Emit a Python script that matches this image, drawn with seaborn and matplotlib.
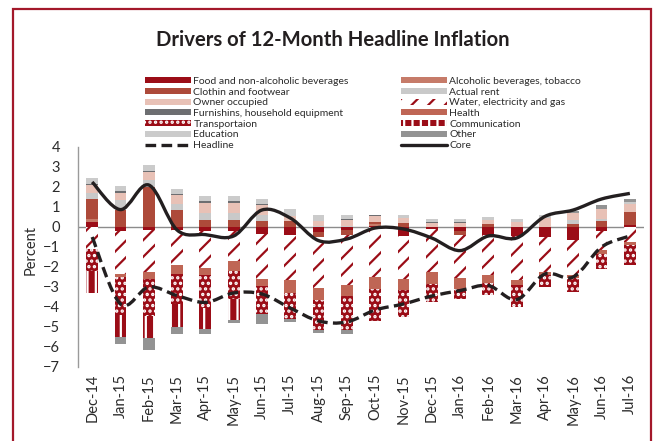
import numpy as np
import matplotlib.pyplot as plt
import seaborn as sns
from matplotlib.path import Path
from matplotlib.patches import PathPatch, Rectangle
from matplotlib.lines import Line2D

# ── Data (percentage-point contributions) ─────────────────────────────────────
months = ["Dec-14", "Jan-15", "Feb-15", "Mar-15", "Apr-15", "May-15", "Jun-15",
          "Jul-15", "Aug-15", "Sep-15", "Oct-15", "Nov-15", "Dec-15", "Jan-16",
          "Feb-16", "Mar-16", "Apr-16", "May-16", "Jun-16", "Jul-16"]

food          = [0.25, -0.22, -0.17, -0.17, -0.20, -0.20, -0.33, -0.38, -0.25, -0.17,
                 0.05, -0.45, -0.12, -0.22, -0.42, -0.45, -0.50, -0.67, -0.20, 0.12]
alcohol       = [0.15, 0, 0, 0, 0, 0, 0, 0, 0, 0, 0.10, 0, 0, 0, 0, 0, 0, 0, 0, 0]
clothing      = [0.98, 0.83, 2.00, 0.83, 0.37, 0.33, 0.28, 0.28, -0.25, -0.21,
                 0.10, 0.20, 0, -0.20, 0.17, 0, 0, 0.17, 0.30, 0.63]
rent          = [0.33, 0.50, 0.35, 0.30, 0.35, 0.39, 0.34, 0, 0.05, 0.07,
                 0, 0, 0, 0, 0, 0, 0, 0.17, 0.08, 0]
owner         = [0.38, 0.39, 0.40, 0.45, 0.50, 0.50, 0.46, 0.27, 0.25, 0.30,
                 0.30, 0.25, 0.22, 0.20, 0.20, 0.25, 0.45, 0.38, 0.50, 0.42]
water         = [-1.10, -2.11, -2.10, -1.75, -1.85, -1.52, -2.25, -2.29, -2.57, -2.54,
                 -2.50, -2.13, -2.13, -2.13, -2.00, -2.22, -1.75, -1.75, -0.97, -0.75]
furnishing    = [0.08, 0.06, 0.03, 0.07, 0.06, 0.06, 0.09, 0, 0.02, 0.02,
                 0.07, 0, 0.03, 0.03, 0, 0, 0, 0, 0, 0]
health        = [0, -0.17, -0.33, -0.41, -0.33, -0.50, -0.39, -0.61, -0.60, -0.53,
                 -0.58, -0.59, -0.58, -0.53, -0.36, -0.25, -0.17, -0.13, -0.16, -0.17]
transport     = [-1.08, -1.88, -1.83, -1.54, -1.67, -1.36, -1.36, -1.30, -1.50, -1.72,
                 -1.64, -1.35, -0.92, -0.50, -0.64, -1.08, -0.58, -0.70, -0.75, -0.96]
communication = [-1.12, -1.12, -1.12, -1.13, -1.03, -1.09, 0, 0, 0, 0,
                 0, 0, 0, 0, 0, 0, 0, 0, 0, 0]
education     = [0.30, 0.27, 0.32, 0.23, 0.27, 0.27, 0.25, 0.33, 0.30, 0.23,
                 0, 0.15, 0.15, 0.15, 0.12, 0.15, 0.15, 0, 0, 0.08]
other         = [0, -0.33, -0.62, -0.33, -0.25, -0.13, -0.50, -0.17, -0.11, -0.16,
                 0, 0, 0, 0, 0, 0, 0, 0.10, 0.20, 0.17]

headline = [-0.50, -3.85, -3.00, -3.43, -3.77, -3.30, -3.35, -4.05, -4.70, -4.75,
            -4.15, -3.85, -3.45, -3.18, -2.93, -3.63, -2.35, -2.50, -1.00, -0.45]
core     = [2.25, 0.87, 2.10, -0.15, -0.38, -0.45, 0.85, 0.45, -0.68, -0.60,
            -0.05, -0.10, -0.55, -1.18, -0.45, -0.55, 0.53, 0.85, 1.40, 1.68]

# ── Style ─────────────────────────────────────────────────────────────────────
sns.set_theme(style="white")
plt.rcParams["font.family"] = ["Lato", "DejaVu Sans"]
plt.rcParams["hatch.linewidth"] = 1.6

DARK = "#9b0d17"
TEXT = "#2b2b2b"
series = [
    ("Food and non-alcoholic beverages", food, dict(color=DARK)),
    ("Alcoholic beverages, tobacco", alcohol, dict(color="#c67b69")),
    ("Clothin and footwear", clothing, dict(color="#ad4a3a")),
    ("Actual rent", rent, dict(color="#c9c9c9")),
    ("Owner occupied", owner, dict(color="#e8c1b6")),
    ("Water, electricity and gas", water, dict(facecolor="white", edgecolor=DARK, hatch="//")),
    ("Furnishins, household equipment", furnishing, dict(color="#6d6e71")),
    ("Health", health, dict(color="#bf6655")),
    ("Transportaion", transport, dict(facecolor=DARK, edgecolor="white", hatch="...")),
    ("Communication", communication, dict(facecolor=DARK, edgecolor="white", hatch="||")),
    ("Education", education, dict(color="#cbcbcb")),
    ("Other", other, dict(color="#939393")),
]


def smooth_path(xs, ys):
    # Excel-style smoothed line: cubic Bezier through the data points
    pts = np.column_stack([xs, ys]).astype(float)
    verts, codes = [pts[0]], [Path.MOVETO]
    n = len(pts)
    for i in range(n - 1):
        p0, p1, p2, p3 = pts[max(i - 1, 0)], pts[i], pts[i + 1], pts[min(i + 2, n - 1)]
        verts += [p1 + (p2 - p0) / 6, p2 - (p3 - p1) / 6, p2]
        codes += [Path.CURVE4] * 3
    return Path(verts, codes)


W, H = 657, 441
fig = plt.figure(figsize=(W / 100, H / 100), dpi=100)
ax = fig.add_axes([78 / W, 74 / H, 566 / W, 220 / H])

x = np.arange(len(months))
pos_base = np.zeros(len(months))
neg_base = np.zeros(len(months))
containers = {}
for label, vals, style in series:
    v = np.array(vals, dtype=float)
    bottom = np.where(v >= 0, pos_base, neg_base)
    containers[label] = ax.bar(x, v, bottom=bottom, width=0.42, linewidth=0,
                               label=label, zorder=2, **style)
    pos_base += np.clip(v, 0, None)
    neg_base += np.clip(v, None, 0)

ax.axhline(0, color="#8c8c8c", lw=1, zorder=1)

ax.add_patch(PathPatch(smooth_path(x, headline), fill=False, edgecolor="#231f20",
                       lw=2.4, linestyle=(0, (3.2, 1.6)), zorder=4))
ax.add_patch(PathPatch(smooth_path(x, core), fill=False, edgecolor="#231f20",
                       lw=2.4, zorder=4))

ax.set_xlim(-0.5, len(months) - 0.5)
ax.set_ylim(-7, 4)
ax.set_yticks(range(-7, 5))
ax.set_xticks(x)
ax.set_xticklabels(months, rotation=90, fontsize=10.5, color=TEXT)
ax.tick_params(axis="y", length=0, pad=13, labelsize=10.5, labelcolor=TEXT)
ax.tick_params(axis="x", length=0, pad=5)
sns.despine(ax=ax, top=True, right=True, bottom=True, left=False)
ax.spines["left"].set_color("#9a9a9a")
ax.spines["left"].set_linewidth(1)

fig.text(31 / W, 1 - 250 / H, "Percent", rotation=90, ha="center", va="center",
         fontsize=10.5, color=TEXT)
fig.text(333 / W, 1 - 40 / H, "Drivers of 12-Month Headline Inflation",
         ha="center", va="center", fontsize=14.6, fontweight="bold", color="#231f20")

# legend: two columns, filled row by row like the original
left = ["Food and non-alcoholic beverages", "Clothin and footwear", "Owner occupied",
        "Furnishins, household equipment", "Transportaion", "Education"]
right = ["Alcoholic beverages, tobacco", "Actual rent", "Water, electricity and gas",
         "Health", "Communication", "Other"]
h_line = Line2D([], [], color="#231f20", lw=2.4, linestyle=(0, (3.2, 1.6)))
c_line = Line2D([], [], color="#231f20", lw=2.4)
handles = [containers[k] for k in left] + [h_line] + [containers[k] for k in right] + [c_line]
labels = left + ["Headline"] + right + ["Core"]
fig.legend(handles, labels, ncol=2, loc="upper left",
           bbox_to_anchor=(145 / W, 1 - 77 / H), frameon=False, fontsize=7.5,
           handlelength=4.4, handleheight=0.55, handletextpad=0.25,
           columnspacing=5.0, labelspacing=0.16, borderpad=0, borderaxespad=0,
           labelcolor=TEXT)

# dark red frame around the exhibit
fig.add_artist(Rectangle((12.5 / W, -0.1), (651 - 12.5) / W, 1.1 - 9 / H,
                         transform=fig.transFigure, fill=False,
                         edgecolor="#a3182a", lw=1.6))

fig.savefig("out.png", dpi=100, facecolor="white")
